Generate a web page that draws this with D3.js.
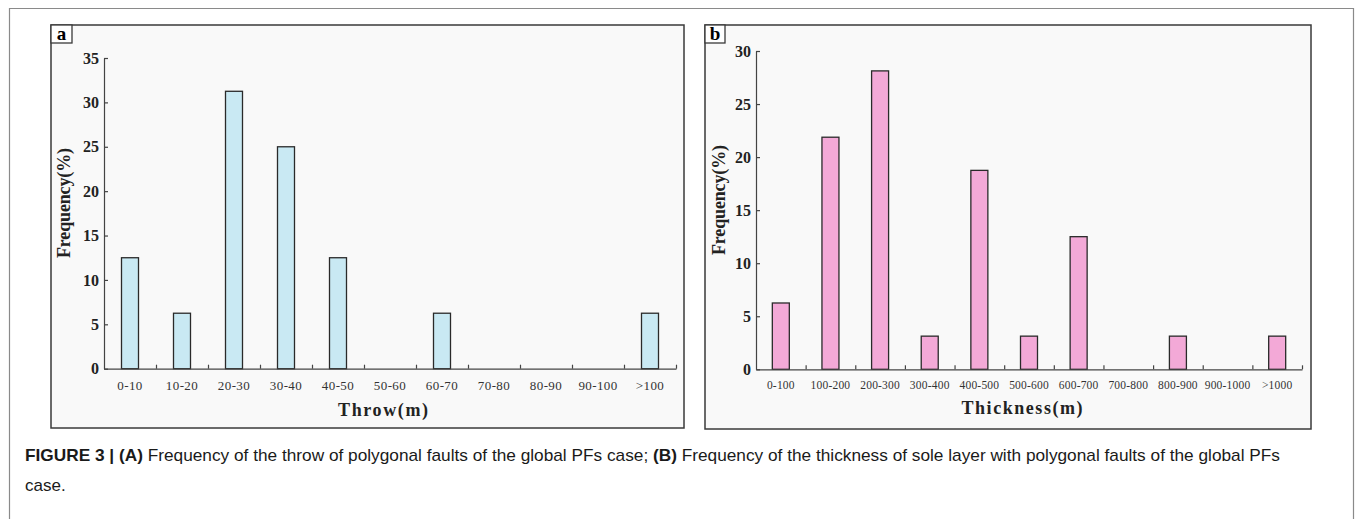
<!DOCTYPE html>
<html>
<head>
<meta charset="utf-8">
<script src="https://cdn.jsdelivr.net/npm/d3@7"></script>
<style>
  html, body { margin: 0; padding: 0; background: #fff; }
  svg { display: block; }
</style>
</head>
<body>
<div id="chart"></div>
<script>
// ---- data ----
const throwCategories = ["0-10", "10-20", "20-30", "30-40", "40-50", "50-60", "60-70", "70-80", "80-90", "90-100", ">100"];
const throwValues = [12.5, 6.25, 31.25, 25, 12.5, 0, 6.25, 0, 0, 0, 6.25];
const throwTicks = [0, 5, 10, 15, 20, 25, 30, 35];

const thicknessCategories = ["0-100", "100-200", "200-300", "300-400", "400-500", "500-600", "600-700", "700-800", "800-900", "900-1000", ">1000"];
const thicknessValues = [6.25, 21.875, 28.125, 3.125, 18.75, 3.125, 12.5, 0, 3.125, 0, 3.125];
const thicknessTicks = [0, 5, 10, 15, 20, 25, 30];

const captionLine1 = [
  {t: "FIGURE 3 | ", b: true}, {t: "(A)", b: true},
  {t: " Frequency of the throw of polygonal faults of the global PFs case; ", b: false},
  {t: "(B)", b: true},
  {t: " Frequency of the thickness of sole layer with polygonal faults of the global PFs", b: false}
];
const captionLine2 = "case.";

const W = 1355, H = 519;
const serif = "'Liberation Serif', 'Times New Roman', serif";
const sans = "'Liberation Sans Narrow', 'Liberation Sans', Arial, sans-serif";

const svg = d3.select("#chart").append("svg")
  .attr("width", W).attr("height", H);

// outer figure frame (open at the bottom)
svg.append("path")
  .attr("d", "M9.5," + H + "V8.5H1353.5V" + H)
  .attr("fill", "none").attr("stroke", "#8a8a8a").attr("stroke-width", 1.2);

function drawPanel(cfg) {
  const g = svg.append("g");
  // panel background + frame
  g.append("rect")
    .attr("x", cfg.frame.x0).attr("y", cfg.frame.y0)
    .attr("width", cfg.frame.x1 - cfg.frame.x0).attr("height", cfg.frame.y1 - cfg.frame.y0)
    .attr("fill", "#f9f9f9").attr("stroke", "#3a3a3a").attr("stroke-width", 1.5);

  // letter box
  g.append("rect")
    .attr("x", cfg.frame.x0).attr("y", cfg.frame.y0)
    .attr("width", cfg.boxW).attr("height", 18)
    .attr("fill", "#fff").attr("stroke", "#3a3a3a").attr("stroke-width", 1.3);
  g.append("text")
    .attr("x", cfg.frame.x0 + cfg.boxW / 2).attr("y", cfg.frame.y0 + 15)
    .attr("text-anchor", "middle")
    .style("font-family", serif).style("font-weight", "bold").style("font-size", "19px")
    .text(cfg.letter);

  const yScale = d3.scaleLinear().domain(cfg.yDomain).range([cfg.y0, cfg.y1]);
  const xBand = d3.scaleBand().domain(cfg.categories).range([cfg.x0, cfg.x1]).padding(0);
  const xEdge = d3.scaleLinear().domain([0, cfg.categories.length]).range([cfg.x0, cfg.x1]);

  // bars
  g.selectAll(".bar")
    .data(cfg.values.map((v, i) => ({cat: cfg.categories[i], v: v})).filter(d => d.v > 0))
    .join("rect")
    .attr("class", "bar")
    .attr("x", d => xBand(d.cat) + (xBand.bandwidth() - cfg.barW) / 2)
    .attr("y", d => yScale(d.v))
    .attr("width", cfg.barW)
    .attr("height", d => yScale(0) - yScale(d.v))
    .attr("fill", cfg.fill).attr("stroke", "#2a2a2a").attr("stroke-width", 1.3);

  // y axis, ticks pointing inward
  const yAxisG = g.append("g")
    .attr("transform", "translate(" + cfg.x0 + ",0)")
    .call(d3.axisLeft(yScale).tickValues(cfg.yTicks).tickSize(-4).tickSizeOuter(0).tickPadding(5));
  yAxisG.selectAll("path,line").attr("stroke", "#444").attr("stroke-width", 1.2);
  yAxisG.selectAll("text")
    .style("font-family", serif).style("font-weight", "bold").style("font-size", "16px").attr("fill", "#222");

  // x axis: line with small upward ticks at category boundaries
  const xAxisG = g.append("g")
    .attr("transform", "translate(0," + cfg.y0 + ")")
    .call(d3.axisBottom(xEdge).tickValues(d3.range(1, cfg.categories.length + 1)).tickSize(-4).tickSizeOuter(0).tickFormat(""));
  xAxisG.selectAll("path,line").attr("stroke", "#444").attr("stroke-width", 1.2);

  // x category labels
  const xLab = g.append("g")
    .attr("transform", "translate(0," + cfg.y0 + ")")
    .call(d3.axisBottom(xBand).tickSize(0).tickPadding(cfg.labelPad));
  xLab.select(".domain").remove();
  xLab.selectAll("text")
    .style("font-family", serif).style("font-size", cfg.xFont + "px").attr("fill", "#333")
    .style("letter-spacing", cfg.xSpacing + "px");

  // axis titles
  g.append("text")
    .attr("x", cfg.xTitle.x).attr("y", cfg.xTitle.y)
    .attr("text-anchor", "middle")
    .attr("textLength", cfg.xTitle.len).attr("lengthAdjust", "spacing")
    .style("font-family", serif).style("font-weight", "bold").style("font-size", "18px").attr("fill", "#222")
    .text(cfg.xTitle.text);
  g.append("text")
    .attr("transform", "translate(" + cfg.yTitle.x + "," + cfg.yTitle.y + ") rotate(-90)")
    .attr("text-anchor", "middle")
    .attr("textLength", cfg.yTitle.len).attr("lengthAdjust", "spacing")
    .style("font-family", serif).style("font-weight", "bold").style("font-size", "18px").attr("fill", "#222")
    .text("Frequency(%)");
}

drawPanel({
  letter: "a", boxW: 21,
  frame: {x0: 51, y0: 25, x1: 684, y1: 428},
  categories: throwCategories, values: throwValues,
  yDomain: [0, 35], yTicks: throwTicks,
  x0: 104, x1: 676, y0: 368.7, y1: 58,
  barW: 17, fill: "#c9e9f3",
  xFont: 13, xSpacing: 0.4, labelPad: 12,
  xTitle: {text: "Throw(m)", x: 383, y: 416, len: 90},
  yTitle: {x: 70, y: 203, len: 110}
});

drawPanel({
  letter: "b", boxW: 20,
  frame: {x0: 705, y0: 25, x1: 1311, y1: 429},
  categories: thicknessCategories, values: thicknessValues,
  yDomain: [0, 30], yTicks: thicknessTicks,
  x0: 756, x1: 1302, y0: 369.3, y1: 51,
  barW: 17, fill: "#f3a9d7",
  xFont: 11.5, xSpacing: 0.2, labelPad: 12,
  xTitle: {text: "Thickness(m)", x: 1022, y: 414, len: 121},
  yTitle: {x: 725, y: 200, len: 110}
});

// caption
const cap = svg.append("text")
  .attr("x", 25).attr("y", 461)
  .style("font-family", sans).style("font-size", "17px").attr("fill", "#1a1a1a");
cap.selectAll("tspan").data(captionLine1).join("tspan")
  .style("font-weight", d => d.b ? "bold" : "normal")
  .text(d => d.t);
cap.attr("textLength", 1255).attr("lengthAdjust", "spacingAndGlyphs");

svg.append("text")
  .attr("x", 25).attr("y", 491)
  .style("font-family", sans).style("font-size", "17px").attr("fill", "#1a1a1a")
  .text(captionLine2);
</script>
</body>
</html>
